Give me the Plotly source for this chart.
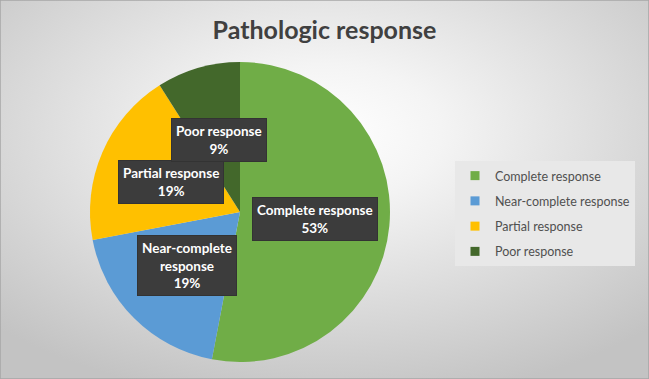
import base64
import math
import plotly.graph_objects as go

# ---- data ----
categories = ["Complete response", "Near-complete response", "Partial response", "Poor response"]
percentages = [53, 19, 19, 9]
label_texts = ["Complete response", "Near-complete<br>response", "Partial response", "Poor response"]
colors = ["#70AD47", "#5B9BD5", "#FFC000", "#43682B"]
title_text = "Pathologic response"

W, H = 649, 379
font_family = "Lato, 'Open Sans', sans-serif"

# pie placement (paper fractions)
dom_x = [90 / W, 390 / W]
dom_y = [17 / H, 317 / H]

fig = go.Figure()

fig.add_trace(go.Pie(
    labels=categories,
    values=percentages,
    marker=dict(colors=colors, line=dict(width=0)),
    sort=False,
    direction="clockwise",
    rotation=0,
    textinfo="none",
    hoverinfo="none",
    showlegend=False,
    domain=dict(x=dom_x, y=dom_y),
))

# legend entries (one group each so spacing can be controlled)
for name, col in zip(categories, colors):
    fig.add_trace(go.Scatter(
        x=[None], y=[None], mode="markers", name=name, legendgroup=name,
        marker=dict(symbol="square", size=9, color=col),
        hoverinfo="skip",
    ))

# data labels placed at half radius along each slice's mid-angle
cx = (dom_x[0] + dom_x[1]) / 2
cy = (dom_y[0] + dom_y[1]) / 2
R_px = min((dom_x[1] - dom_x[0]) * W, (dom_y[1] - dom_y[0]) * H) / 2
total = sum(percentages)
cum = 0
annotations = []
for txt, v in zip(label_texts, percentages):
    mid = (cum + v / 2) / total * 2 * math.pi
    cum += v
    r = 0.5 * R_px
    ax = cx + r * math.sin(mid) / W
    ay = cy + r * math.cos(mid) / H
    annotations.append(dict(
        x=ax, y=ay, xref="paper", yref="paper", xanchor="center", yanchor="middle",
        text=f"<b>{txt}<br>{v}%</b>", showarrow=False,
        font=dict(family=font_family, size=13.5, color="white"),
        bgcolor="#3c3c3c", bordercolor="#333333", borderwidth=1, borderpad=4,
        align="center",
    ))

svg = (
    "<svg xmlns='http://www.w3.org/2000/svg' width='649' height='379' preserveAspectRatio='none'>"
    "<defs><radialGradient id='g' cx='50%' cy='35%' r='72%'>"
    "<stop offset='0' stop-color='#ffffff'/><stop offset='0.25' stop-color='#f4f4f4'/>"
    "<stop offset='1' stop-color='#c3c3c3'/></radialGradient></defs>"
    "<rect width='100%' height='100%' fill='url(#g)'/></svg>"
)
bg_uri = "data:image/svg+xml;base64," + base64.b64encode(svg.encode()).decode()

fig.update_layout(
    width=W, height=H,
    margin=dict(l=0, r=0, t=0, b=0),
    paper_bgcolor="#d9d9d9",
    plot_bgcolor="rgba(0,0,0,0)",
    title=dict(text=f"<b>{title_text}</b>", x=0.5, xanchor="center", y=1 - 30 / H, yanchor="middle",
               font=dict(family=font_family, size=25, color="#404040")),
    xaxis=dict(visible=False),
    yaxis=dict(visible=False),
    legend=dict(
        x=455 / W, y=1 - 161 / H, xanchor="left", yanchor="top",
        bgcolor="#e8e8e8", borderwidth=0,
        font=dict(family=font_family, size=12.5, color="#505050"),
        traceorder="grouped", tracegroupgap=6, itemwidth=30,
    ),
    images=[dict(source=bg_uri, xref="paper", yref="paper", x=0, y=1, sizex=1, sizey=1,
                 sizing="stretch", layer="below", xanchor="left", yanchor="top")],
    shapes=[dict(type="rect", xref="paper", yref="paper", x0=0, y0=0, x1=1, y1=1,
                 line=dict(color="#a6a6a6", width=1.5), fillcolor="rgba(0,0,0,0)")],
    annotations=annotations,
)

fig.write_html("out.html")
